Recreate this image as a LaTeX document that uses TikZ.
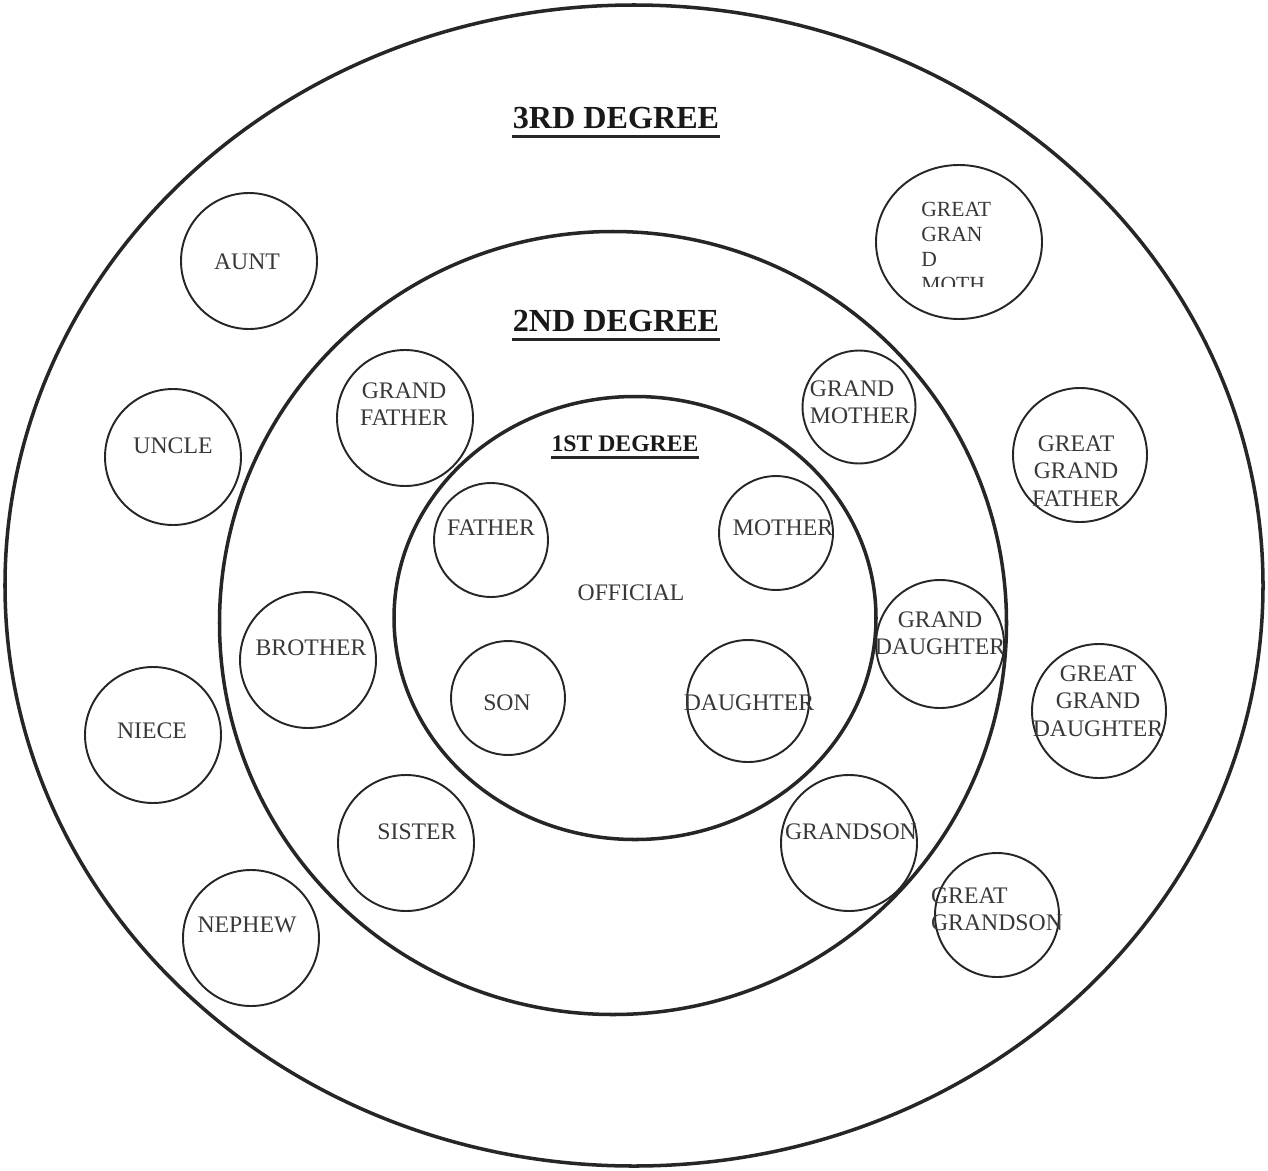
\documentclass[tikz,border=0pt]{standalone}
\usepackage{fontspec}
\setmainfont{Liberation Serif}
\usetikzlibrary{positioning, calc, shapes.geometric}

\tikzset{
  ring/.style = {ellipse, draw=black!85, line width=2pt, inner sep=0pt},
  person/.style = {circle, draw=black!85, line width=1.1pt, inner sep=0pt,
                   minimum size=#1},
  person/.default = {136*0.02cm},
  lbl/.style = {font=\fontsize{13.5}{15.6}\selectfont, text=black!78,
                inner sep=0pt, align=center},
  degree/.style = {font=\bfseries\fontsize{#1}{#1}\selectfont, text=black!90,
                   inner sep=0pt},
  uline/.style = {line width=1.6pt, black!85},
}

\begin{document}
\begin{tikzpicture}[x=0.02cm, y=-0.02cm]
\useasboundingbox (0,0) rectangle (1268,1170);

% the three degrees
\node[ring, minimum width=1258*0.02cm, minimum height=1161*0.02cm] (outer) at (634,585.5) {};
\node[ring, minimum width=787*0.02cm, minimum height=783*0.02cm] (middle) at (613,623) {};
\node[ring, minimum width=482*0.02cm, minimum height=443*0.02cm] (inner) at (635,618) {};

\node[degree=18.3] (deg3) at (616,118) {3RD DEGREE};
\node[degree=18.3] (deg2) at (616,321) {2ND DEGREE};
\node[degree=13.5] (deg1) at (625,444) {1ST DEGREE};
\draw[uline] ($(deg3.south west)+(0,7)$) -- ($(deg3.south east)+(0,7)$);
\draw[uline] ($(deg2.south west)+(0,7)$) -- ($(deg2.south east)+(0,7)$);
\draw[uline] ($(deg1.south west)+(0,5)$) -- ($(deg1.south east)+(0,5)$);

% 1st degree
\node[lbl] (official) at (631,593) {OFFICIAL};
\node[person=114*0.02cm] (father) at (491,540) {};
\node[lbl] (fatherT) at (491,528) {FATHER};
\node[person=114*0.02cm] (mother) at (776,533) {};
\node[lbl] (motherT) at (783,528) {MOTHER};
\node[person=114*0.02cm] (son) at (508,698) {};
\node[lbl] (sonT) at (507,703) {SON};
\node[person=122*0.02cm] (daughter) at (748,701) {};
\node[lbl] (daughterT) at (749,703) {DAUGHTER};

% 2nd degree
\node[person] (gfather) at (405,418) {};
\node[lbl] (gfatherT) at (404,404) {GRAND\\FATHER};
\node[person=113*0.02cm] (gmother) at (859,407) {};
\node[lbl, align=left] (gmotherT) at (860,402) {GRAND\\MOTHER};
\node[person] (brother) at (308,660) {};
\node[lbl] (brotherT) at (311,648) {BROTHER};
\node[person] (sister) at (406,843) {};
\node[lbl] (sisterT) at (417,832) {SISTER};
\node[person=128*0.02cm] (gdaughter) at (940,644) {};
\node[lbl] (gdaughterT) at (940,633) {GRAND\\DAUGHTER};
\node[person] (grandson) at (849,843) {};
\node[lbl] (grandsonT) at (851,832) {GRANDSON};

% 3rd degree
\node[person] (aunt) at (249,261) {};
\node[lbl] (auntT) at (247,262) {AUNT};
\node[person] (uncle) at (173,457) {};
\node[lbl] (uncleT) at (173,446) {UNCLE};
\node[person] (niece) at (153,735) {};
\node[lbl] (nieceT) at (152,731) {NIECE};
\node[person] (nephew) at (251,938) {};
\node[lbl] (nephewT) at (247,925) {NEPHEW};
\node[ellipse, draw=black!85, line width=1.1pt, inner sep=0pt,
      minimum width=166*0.02cm, minimum height=154*0.02cm] (ggmother) at (959,242) {};
\begin{scope}
  \clip (900,190) rectangle (1010,286);
  \node[lbl, align=left, anchor=north west,
        font=\fontsize{12.3}{14.2}\selectfont] (ggmotherT) at (921,202) {GREAT\\GRAN\\D\\MOTH};
\end{scope}
\node[person=134*0.02cm] (ggfather) at (1080,455) {};
\node[lbl] (ggfatherT) at (1076,471) {GREAT\\GRAND\\FATHER};
\node[person=134*0.02cm] (ggdaughter) at (1099,711) {};
\node[lbl] (ggdaughterT) at (1098,701) {GREAT\\GRAND\\DAUGHTER};
\node[person=124*0.02cm] (ggson) at (997,915) {};
\node[lbl, align=left] (ggsonT) at (997,909) {GREAT\\GRANDSON};
\end{tikzpicture}
\end{document}
